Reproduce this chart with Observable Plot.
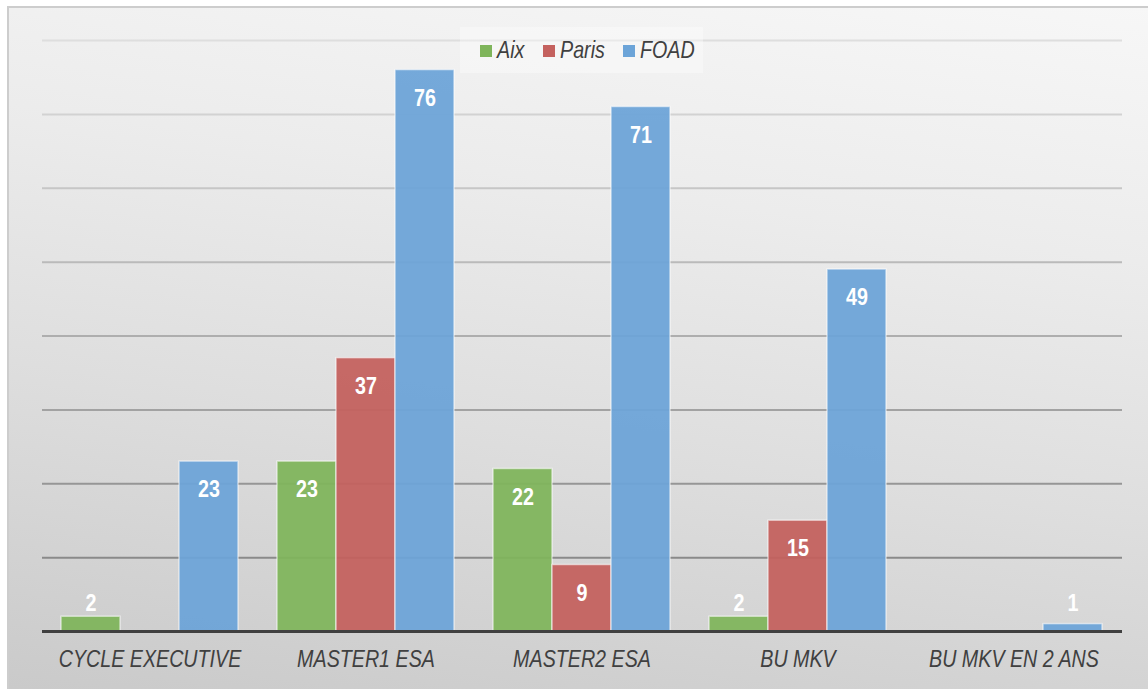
<!DOCTYPE html>
<html>
<head>
<meta charset="utf-8">
<script src="https://cdn.jsdelivr.net/npm/d3@7"></script>
<script src="https://cdn.jsdelivr.net/npm/@observablehq/plot@0.6"></script>
<style>
  html, body { margin: 0; padding: 0; background: #ffffff; }
  #wrap { position: relative; width: 1148px; height: 689px; overflow: hidden; }
  #frame {
    position: absolute; left: 7px; top: 6px; width: 1160px; height: 700px;
    border: 2px solid #cdcdcd; box-sizing: border-box;
    background: linear-gradient(188deg, #f7f7f7 0%, #ececec 30%, #dedede 60%, #c9c9c9 100%);
  }
  #chart { position: absolute; left: 0; top: 0; }
  .nar { font-family: "Liberation Sans", Arial, sans-serif; }
  #legend {
    position: absolute; left: 460px; top: 27px; width: 243px; height: 46px;
    background: rgba(255,255,255,0.35);
    font-style: italic; font-size: 24px; color: #404040;
  }
  #legend .sw { position: absolute; top: 18px; width: 12px; height: 12px; }
  #legend .tx { position: absolute; top: 8px; line-height: 30px; white-space: nowrap;
    transform: scaleX(0.82); transform-origin: left center; }
  #chart svg g[aria-label="x-axis tick label"] text,
  #chart svg g[aria-label="x-axis"] text { font-style: italic; font-size: 24px; fill: #404040; }
</style>
</head>
<body>
<div id="wrap">
  <div id="frame"></div>
  <div id="chart" class="nar"></div>
  <div id="legend" class="nar"></div>
</div>
<script>
const categories = ["CYCLE EXECUTIVE", "MASTER1 ESA", "MASTER2 ESA", "BU MKV", "BU MKV EN 2 ANS"];
const series = ["Aix", "Paris", "FOAD"];
const aix   = [2, 23, 22, 2, null];
const paris = [null, 37, 9, 15, null];
const foad  = [23, 76, 71, 49, 1];
const yTicks = [10, 20, 30, 40, 50, 60, 70, 80];
const colors = ["#7fb55b", "#c4615e", "#6ca4d8"];

const seriesValues = [aix, paris, foad];
const rows = series.map((s, j) =>
  categories.map((c, i) => ({cat: c, series: s, value: seriesValues[j][i]})).filter(d => d.value != null)
);

const gridColor = d3.scaleLinear().domain([10, 80]).range(["#8a8a8a", "#dedede"]);

// slot layout inside each category band (pixel styling)
const slot = 59;
const insets = [[0, 2 * slot], [slot, slot], [2 * slot, 0]];
const offsets = [-slot, 0, slot];

const barMarks = rows.map((r, j) => Plot.barY(r, {
  x: "cat", y: "value", fill: "series", fillOpacity: 0.94,
  insetLeft: insets[j][0], insetRight: insets[j][1],
  stroke: "#ffffff", strokeOpacity: 0.55, strokeWidth: 1.5
}));
const labelMarks = rows.flatMap((r, j) => [
  Plot.text(r.filter(d => d.value >= 5), {x: "cat", y: "value", text: d => String(d.value),
    dx: offsets[j], dy: 28, fill: "#ffffff", fontSize: 24, fontWeight: "bold"}),
  Plot.text(r.filter(d => d.value < 5), {x: "cat", y: 0, text: d => String(d.value),
    dx: offsets[j], dy: -28, fill: "#ffffff", fontSize: 24, fontWeight: "bold"})
]);

const plot = Plot.plot({
  width: 1148,
  height: 689,
  marginLeft: 42,
  marginRight: 26,
  marginTop: 40,
  marginBottom: 58,
  style: {background: "transparent", overflow: "visible", fontFamily: "'Liberation Sans', Arial, sans-serif"},
  x: {domain: categories, paddingInner: 0.18, paddingOuter: 0.09, label: null, tickSize: 0, tickPadding: 18},
  y: {domain: [0, 80], axis: null},
  color: {domain: series, range: colors},
  marks: [
    ...yTicks.map(t => Plot.ruleY([t], {stroke: gridColor(t), strokeWidth: 2})),
    ...barMarks,
    Plot.ruleY([0], {stroke: "#404040", strokeWidth: 3}),
    ...labelMarks
  ]
});
document.getElementById("chart").appendChild(plot);

// narrow the type (Arial Narrow look)
plot.querySelectorAll("text").forEach(el => {
  const w = el.getComputedTextLength();
  if (w > 0) {
    el.setAttribute("textLength", (w * 0.82).toFixed(1));
    el.setAttribute("lengthAdjust", "spacingAndGlyphs");
  }
});

const legend = document.getElementById("legend");
const legendX = [20, 83, 163];
series.forEach((s, i) => {
  const sw = document.createElement("span");
  sw.className = "sw";
  sw.style.left = legendX[i] + "px";
  sw.style.background = colors[i];
  legend.appendChild(sw);
  const tx = document.createElement("span");
  tx.className = "tx";
  tx.style.left = (legendX[i] + 17) + "px";
  tx.textContent = s;
  legend.appendChild(tx);
});
</script>
</body>
</html>
